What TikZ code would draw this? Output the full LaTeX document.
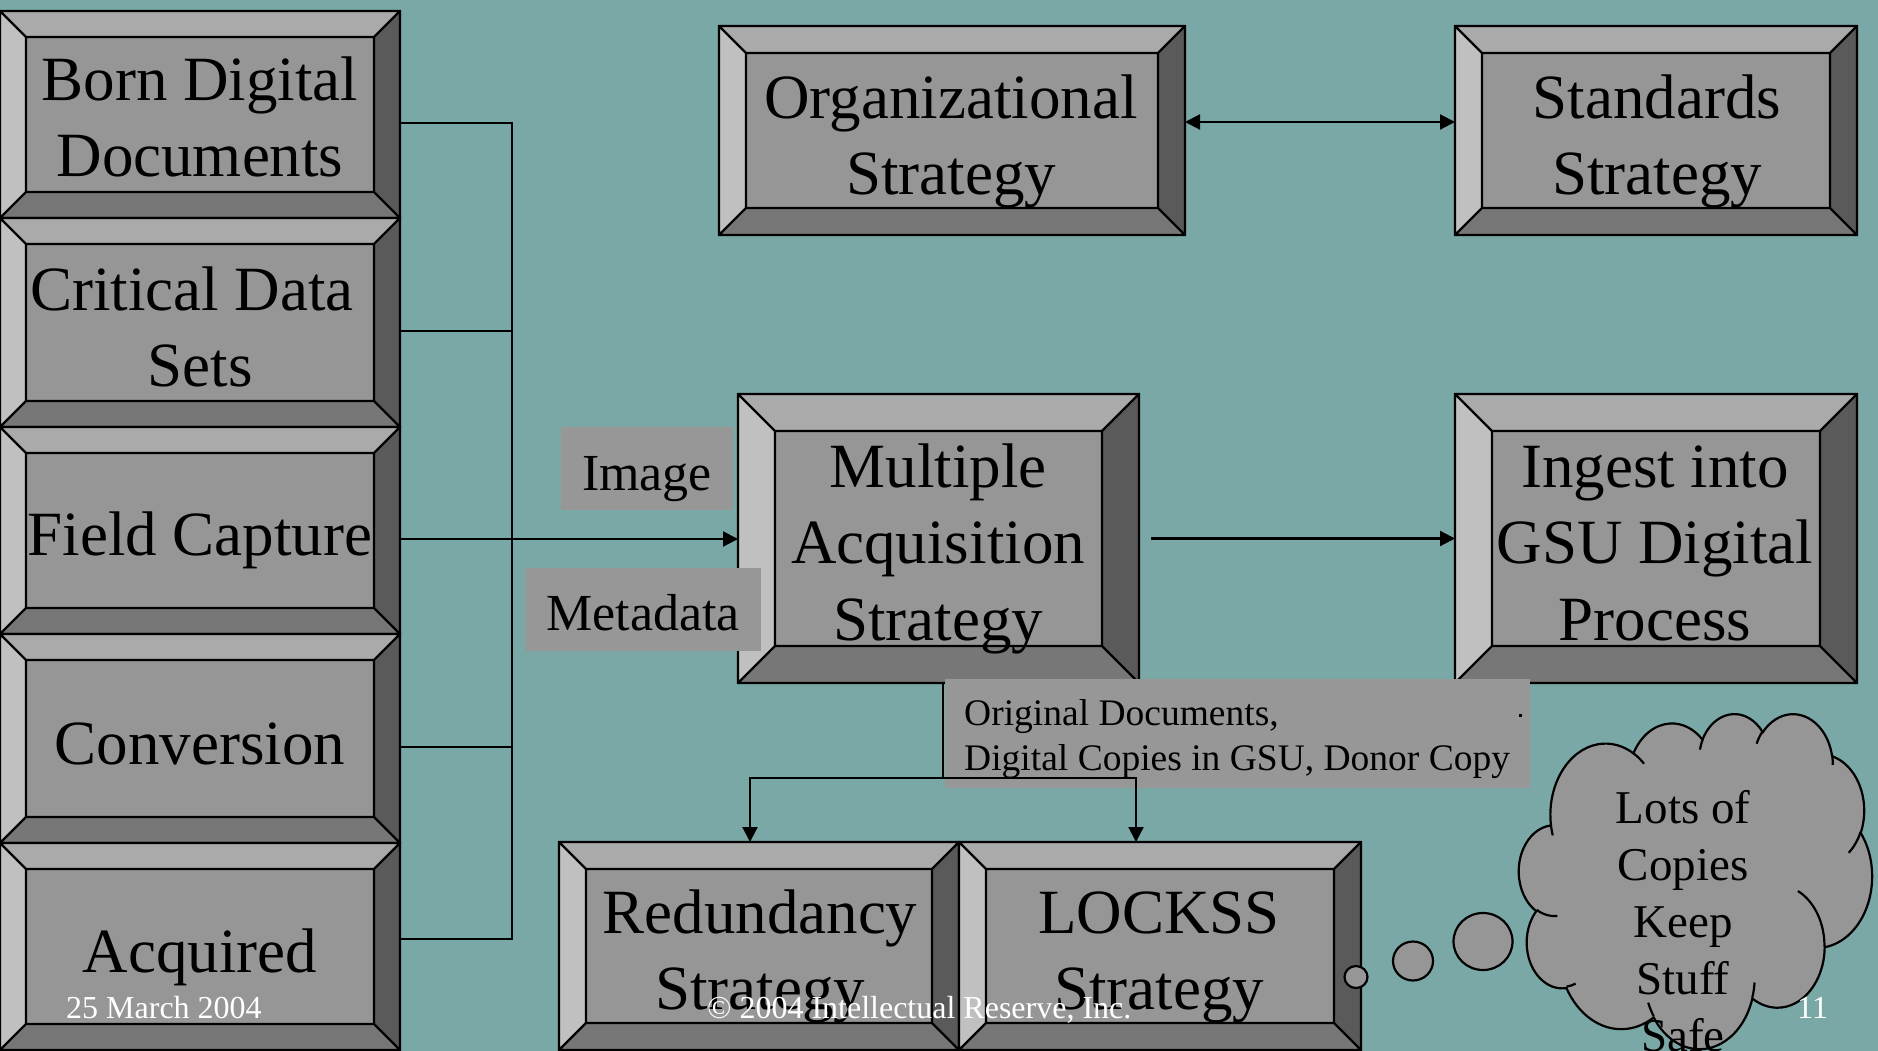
\documentclass[tikz,border=0pt]{standalone}
\usepackage{fontspec}
\setmainfont{Liberation Serif}
\usetikzlibrary{arrows.meta}
\definecolor{bgteal}{HTML}{7AA8A6}
\definecolor{bvtopc}{HTML}{AAAAAA}
\definecolor{bvleftc}{HTML}{C0C0C0}
\definecolor{bvfacec}{HTML}{969696}
\definecolor{bvbotc}{HTML}{777777}
\definecolor{bvrightc}{HTML}{5A5A5A}
\definecolor{lblc}{HTML}{979797}

\tikzset{
  bvline/.style={draw=black, line width=2.2pt, line join=miter},
  boxn/.style={draw=none, inner sep=0pt, outer sep=0pt, rectangle},
  bigtxt/.style={font=\fontsize{63}{76.5}\selectfont, align=center, inner sep=0pt, anchor=north},
  conn/.style={draw=black, line width=2.2pt},
  arrowc/.style={conn, -{Triangle[length=15pt,width=15pt]}},
  dblarrow/.style={conn, {Triangle[length=15pt,width=15pt]}-{Triangle[length=15pt,width=15pt]}},
  lblbox/.style={fill=lblc, draw=none, inner sep=0pt, font=\fontsize{52}{62}\selectfont, text depth=0pt},
  origbox/.style={fill=lblc, draw=none, inner sep=0pt},
  origtxt/.style={font=\fontsize{37.5}{45}\selectfont, align=left, inner sep=0pt, anchor=north west},
  cloudst/.style={fill=bvfacec, draw=black, line width=2.2pt},
  cloudin/.style={draw=black, line width=2.2pt},
  cloudtxt/.style={font=\fontsize{47}{57}\selectfont, align=center, inner sep=0pt, anchor=north},
  foot/.style={font=\fontsize{32}{38}\selectfont, text=white, inner sep=0pt, anchor=base west}
}

% bevelled box: name, x1, y1, x2, y2, bevel
\newcommand\bevbox[6]{%
  \node[boxn, minimum width={#4-#2}, minimum height={#5-#3}] (#1) at ({(#2+#4)/2},{(#3+#5)/2}) {};
  \fill[bvtopc] (#2,#3) -- (#4,#3) -- ({#4-#6},{#3+#6}) -- ({#2+#6},{#3+#6}) -- cycle;
  \fill[bvleftc] (#2,#3) -- ({#2+#6},{#3+#6}) -- ({#2+#6},{#5-#6}) -- (#2,#5) -- cycle;
  \fill[bvbotc] (#2,#5) -- ({#2+#6},{#5-#6}) -- ({#4-#6},{#5-#6}) -- (#4,#5) -- cycle;
  \fill[bvrightc] (#4,#3) -- (#4,#5) -- ({#4-#6},{#5-#6}) -- ({#4-#6},{#3+#6}) -- cycle;
  \fill[bvfacec] ({#2+#6},{#3+#6}) rectangle ({#4-#6},{#5-#6});
  \draw[bvline] (#2,#3) rectangle (#4,#5) ({#2+#6},{#3+#6}) rectangle ({#4-#6},{#5-#6})
    (#2,#3) -- ({#2+#6},{#3+#6}) (#4,#3) -- ({#4-#6},{#3+#6})
    (#2,#5) -- ({#2+#6},{#5-#6}) (#4,#5) -- ({#4-#6},{#5-#6});
}
% text block: name, x centre, first baseline, text
\newcommand\btext[4]{\node[bigtxt] (#1) at (#2,{#3-53.55}) {#4};}
% cloud arc with visual angles: wR, hR, start, sweep
\newcommand\carc[4]{arc[x radius=#1, y radius=#2,
  start angle={atan2(#1*sin(#3),#2*cos(#3))},
  delta angle={atan2(#1*sin(#3+#4),#2*cos(#3+#4))-atan2(#1*sin(#3),#2*cos(#3))-360*round((atan2(#1*sin(#3+#4),#2*cos(#3+#4))-atan2(#1*sin(#3),#2*cos(#3))-(#4))/360)}]}

\begin{document}
\begin{tikzpicture}[x=1pt, y=-1pt]
\useasboundingbox (0,0) rectangle (1878,1051);
\fill[bgteal] (0,0) rectangle (1878,1051);

% left column
\bevbox{b1}{0}{11}{400}{218}{26}
\bevbox{b2}{0}{218}{400}{427}{26}
\bevbox{b3}{0}{427}{400}{634}{26}
\bevbox{b4}{0}{634}{400}{843}{26}
\bevbox{b5}{0}{843}{400}{1050}{26}
\btext{tb1}{200}{100}{\strut Born Digital\\\strut Documents}
\btext{tb2}{200}{310}{\strut Critical Data\hspace*{16pt}\\\strut Sets}
\btext{tb3}{200}{555}{\strut Field Capture}
\btext{tb4}{200}{764}{\strut Conversion}
\btext{tb5}{200}{972}{\strut Acquired}

% top boxes
\bevbox{org}{719}{26}{1185}{235}{27}
\bevbox{std}{1455}{26}{1857}{235}{27}
\btext{torg}{951}{118}{\strut Organizational\\\strut Strategy}
\btext{tstd}{1657}{118}{\strut Standards\\\strut Strategy}
\draw[dblarrow] ([yshift=8.5pt]org.east) -- ([yshift=8.5pt]std.west);

% middle boxes
\bevbox{ma}{738}{394}{1139}{683}{37}
\bevbox{ing}{1455}{394}{1857}{683}{37}
\btext{tma}{938}{487}{\strut Multiple\\\strut Acquisition\\\strut Strategy}
\btext{ting}{1655}{487}{\strut Ingest into\\\strut GSU Digital\\\strut Process}

% bus from left column
\coordinate (j1) at (512,123);
\coordinate (j2) at (512,331);
\coordinate (j3) at (512,539);
\coordinate (j4) at (512,747);
\coordinate (j5) at (512,939);
\draw[conn] (j1 -| b1.east) -- (j1) -- (j5) -- (j5 -| b5.east);
\draw[conn] (j2 -| b2.east) -- (j2);
\draw[conn] (j4 -| b4.east) -- (j4);
\draw[arrowc] (j3 -| b3.east) -- (j3 -| ma.west);
\draw[arrowc] ([xshift=12pt]ma.east) -- (ing.west);

% labels
\node[lblbox, minimum width=172pt, minimum height=83pt, text height=43pt] (img) at (647,468.5) {Image};
\node[lblbox, minimum width=236pt, minimum height=83pt, text height=41pt] (meta) at (643,609.5) {Metadata};
\node[origbox, minimum width=585pt, minimum height=109pt] (orig) at (1237.5,733.5) {};
\node[origtxt] (origt) at (964,693.5) {\strut Original Documents,\\\strut Digital Copies in GSU, Donor Copy};
\fill[black] (1518.5,713.5) rectangle (1521.5,716.5);

% split to bottom boxes
\coordinate (split) at (943,778);
\draw[conn] ([xshift=4.5pt]ma.south) -- (split);

\bevbox{red}{559}{842}{959}{1050}{27}
\bevbox{lock}{959}{842}{1361}{1050}{27}
\draw[arrowc] (split) -| ([xshift=-9pt]red.north);
\draw[arrowc] (split) -| ([xshift=-24pt]lock.north);
\btext{tred}{760}{933}{\strut Redundancy\\\strut Strategy}
\btext{tlock}{1159}{933}{\strut LOCKSS\\\strut Strategy}

% thought cloud
\begin{scope}[shift={(1519,713)}, xscale=0.81713, yscale=0.77546]
  \draw[cloudst] (39.00,143.70)
    \carc{67.53}{91.90}{-190.4875}{123.7805}
    \carc{53.33}{72.67}{-144.1024}{89.9452}
    \carc{43.65}{59.45}{-145.8079}{99.7230}
    \carc{48.57}{65.95}{-130.9861}{117.2417}
    \carc{53.33}{72.73}{-78.7089}{109.0269}
    \carc{67.75}{92.20}{-46.2673}{130.2690}
    \carc{57.85}{78.67}{0.6250}{114.0333}
    \carc{67.52}{92.15}{22.4516}{115.1726}
    \carc{77.20}{105.43}{66.2426}{75.7110}
    \carc{43.60}{59.18}{-274.9421}{146.7356}
    \carc{43.45}{59.45}{-246.8285}{152.5189}
    -- cycle;
  \draw[cloudin]
    (46.93,261.77) \carc{43.45}{59.45}{86.7420}{26.4295}
    (69.28,348.99) \carc{43.60}{59.18}{73.6105}{11.4475}
    (164.78,390.90) \carc{67.52}{92.15}{137.6242}{14.0811}
    (288.27,347.51) \carc{67.52}{92.15}{6.4533}{15.9984}
    (341.29,229.54) \carc{57.85}{78.67}{-70.2924}{70.9174}
    (417.98,153.54) \carc{53.33}{72.73}{30.3180}{27.7515}
    (383.24,54.26) \carc{48.57}{65.95}{-13.7443}{14.8589}
    (290.78,39.52) \carc{48.57}{65.95}{-149.1815}{18.1954}
    (221.41,47.20) \carc{43.65}{59.45}{-163.4943}{17.6864}
    (140.00,51.92) \carc{67.53}{91.90}{-66.7070}{12.3194}
    (41.27,157.89) \carc{67.53}{91.90}{157.6544}{11.8582};
\end{scope}
\draw[cloudst] (1356,977) ellipse [x radius=11.5, y radius=11];
\draw[cloudst] (1413,961) ellipse [x radius=20, y radius=19.5];
\draw[cloudst] (1483,941.5) ellipse [x radius=29.5, y radius=28.5];
\node[cloudtxt] (cloudt) at (1683,783.1) {\strut Lots of\\\strut Copies\\\strut Keep\\\strut Stuff\\\strut Safe};

% footer
\node[foot] (date) at (66,1018) {25 March 2004};
\node[foot] (copyr) at (707,1018) {© 2004 Intellectual Reserve, Inc.};
\node[foot] (pagen) at (1797,1018) {11};
\end{tikzpicture}
\end{document}
